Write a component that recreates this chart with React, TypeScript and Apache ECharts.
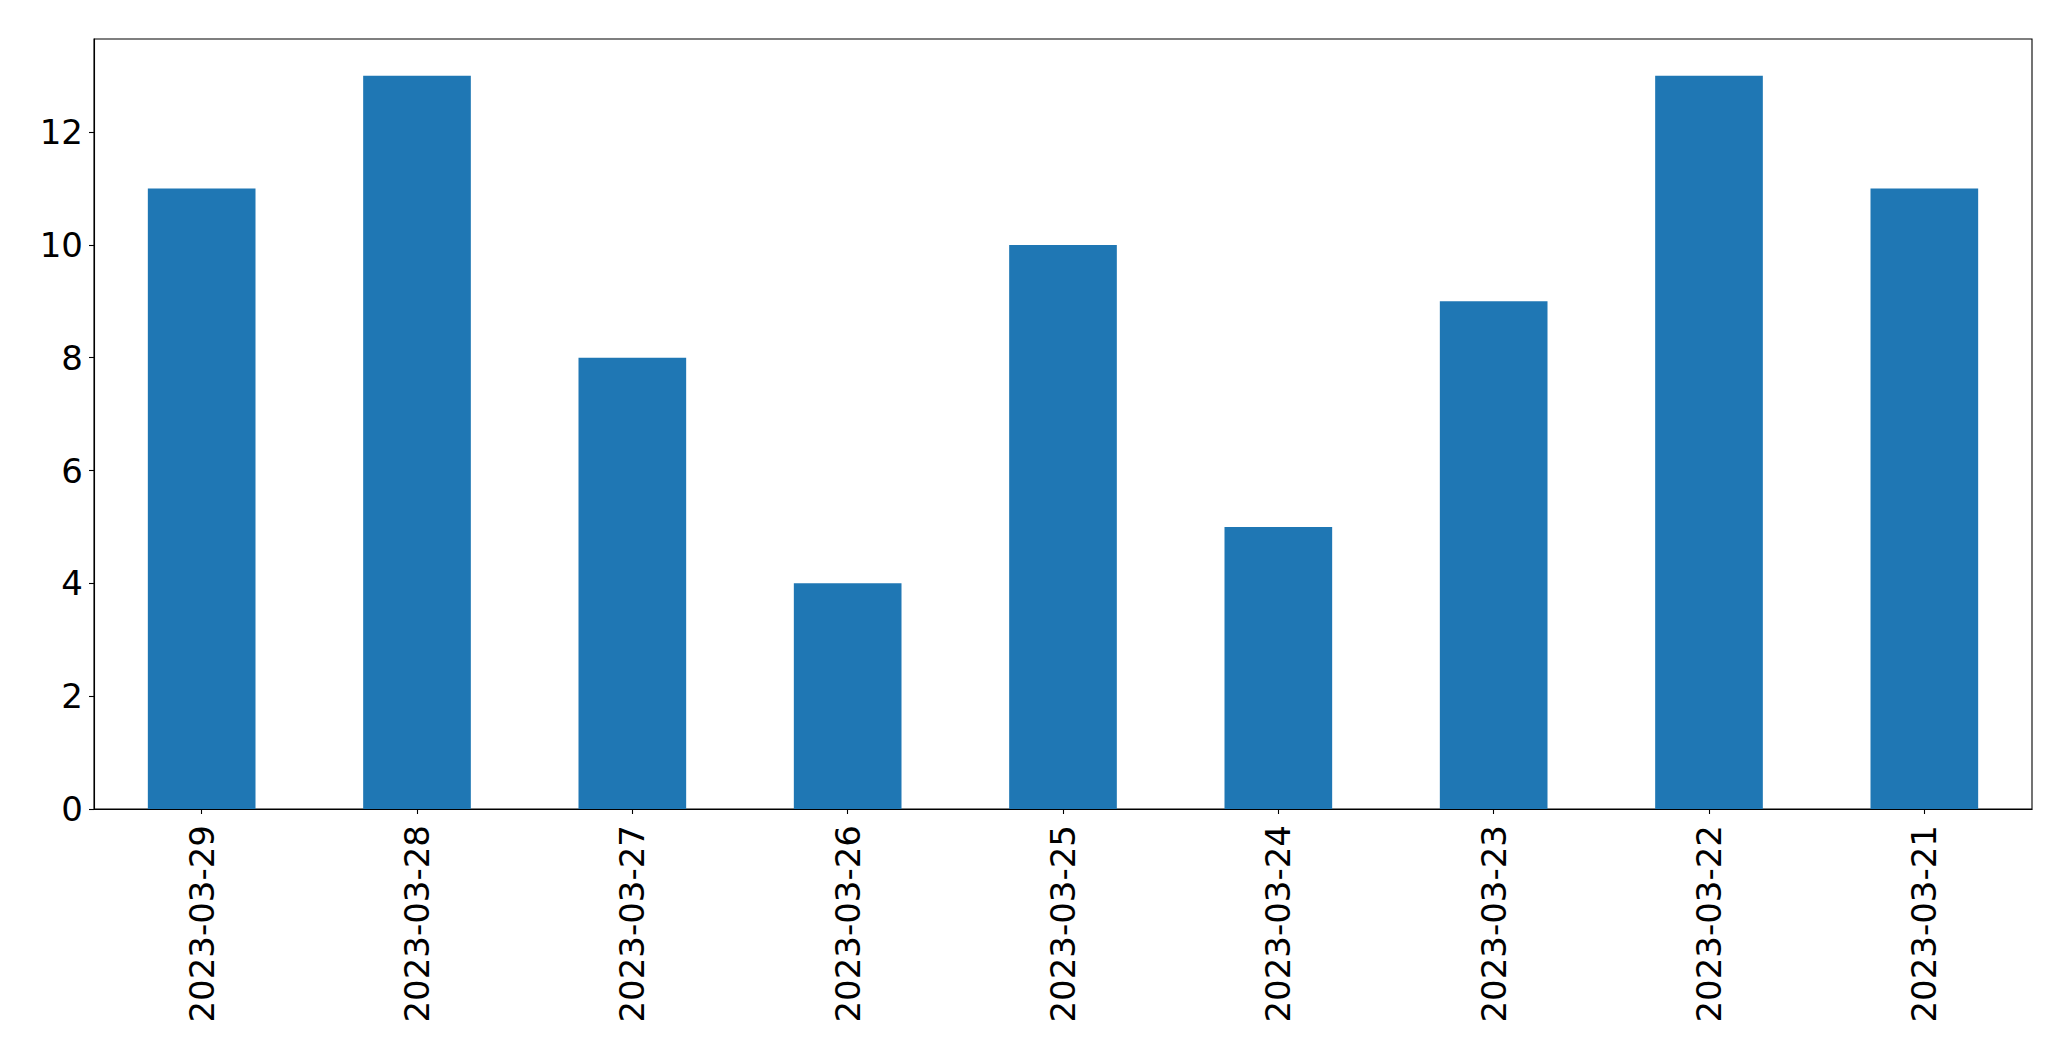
import React, { useEffect, useRef } from "react";
import * as echarts from "echarts";

const categories = [
  "2023-03-29",
  "2023-03-28",
  "2023-03-27",
  "2023-03-26",
  "2023-03-25",
  "2023-03-24",
  "2023-03-23",
  "2023-03-22",
  "2023-03-21",
];
const values = [11, 13, 8, 4, 10, 5, 9, 13, 11];
const yMax = 13.65;
const yInterval = 2;

export default function App() {
  const ref = useRef<HTMLDivElement>(null);
  useEffect(() => {
    if (!ref.current) return;
    const chart = echarts.init(ref.current, undefined, { renderer: "svg" });
    const font = "DejaVu Sans";
    chart.setOption({
      animation: false,
      backgroundColor: "#ffffff",
      grid: {
        left: 94,
        top: 39,
        width: 1938,
        height: 770,
        show: true,
        borderColor: "#000000",
        borderWidth: 1.1,
        containLabel: false,
      },
      xAxis: {
        type: "category",
        data: categories,
        boundaryGap: true,
        axisLine: { show: true, lineStyle: { color: "#000000", width: 1.1 } },
        axisTick: { show: true, alignWithLabel: true, length: 5, lineStyle: { color: "#000000", width: 1.1 } },
        axisLabel: {
          rotate: 90,
          margin: 16,
          fontSize: 34,
          fontFamily: font,
          color: "#000000",
          interval: 0,
        },
        splitLine: { show: false },
      },
      yAxis: {
        type: "value",
        min: 0,
        max: yMax,
        interval: yInterval,
        axisLine: { show: true, lineStyle: { color: "#000000", width: 1.1 } },
        axisTick: { show: true, length: 5, lineStyle: { color: "#000000", width: 1.1 } },
        axisLabel: {
          margin: 11,
          fontSize: 34,
          fontFamily: font,
          color: "#000000",
          showMaxLabel: false,
          formatter: (v: number) => (Number.isInteger(v) ? String(v) : ""),
        },
        splitLine: { show: false },
      },
      series: [
        {
          type: "bar",
          data: values,
          barWidth: "50%",
          itemStyle: { color: "#1f77b4" },
        },
      ],
    });
    return () => chart.dispose();
  }, []);
  return (
    <div
      ref={ref}
      style={{ position: "absolute", left: 0, top: 0, width: 2071, height: 1061 }}
    />
  );
}
